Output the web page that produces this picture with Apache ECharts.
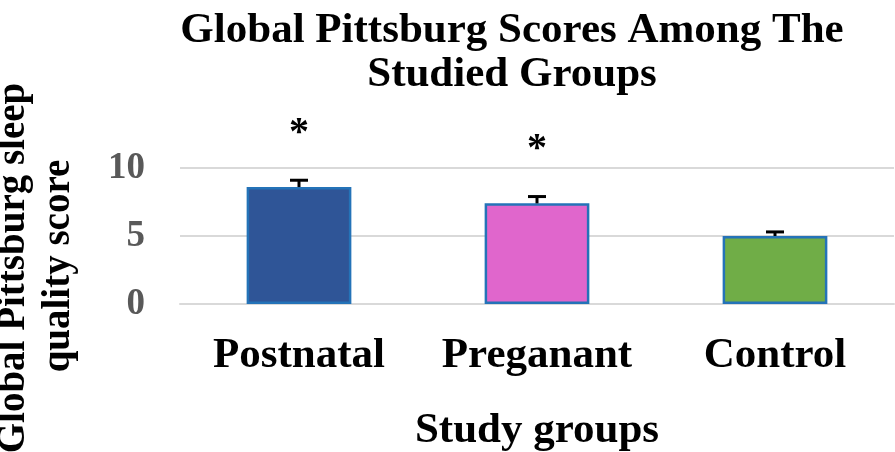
<!DOCTYPE html>
<html>
<head>
<meta charset="utf-8">
<script src="https://cdn.jsdelivr.net/npm/echarts@6/dist/echarts.min.js"></script>
<style>
html,body{margin:0;padding:0;background:#fff;}
#chart{width:895px;height:452px;}
</style>
</head>
<body>
<div id="chart"></div>
<script>
const categories = ['Postnatal', 'Preganant', 'Control'];
const meanScores = [8.6, 7.4, 5.0];
const errorValues = [0.5, 0.5, 0.3];
const significance = ['*', '*', ''];
const barColors = ['#2f5597', '#e066cc', '#70ad47'];
const yTicks = [0, 5, 10];

const FONT = '"Liberation Serif", "Times New Roman", serif';
const chart = echarts.init(document.getElementById('chart'));

const option = {
  animation: false,
  title: {
    text: 'Global Pittsburg Scores Among The\nStudied Groups',
    left: 507,
    top: 4,
    textAlign: 'center',
    textStyle: { fontFamily: FONT, fontWeight: 'bold', fontSize: 43, lineHeight: 44, color: '#000' }
  },
  grid: { left: 180, right: 1, top: 168, bottom: 148, containLabel: false, outerBoundsMode: 'none' },
  xAxis: {
    type: 'category',
    data: categories,
    axisTick: { show: false },
    axisLine: { show: true, lineStyle: { color: '#d9d9d9', width: 2 } },
    axisLabel: { fontFamily: FONT, fontWeight: 'bold', fontSize: 43, color: '#000', margin: 30, interval: 0 },
    name: 'Study groups',
    nameLocation: 'middle',
    nameGap: 105,
    nameTextStyle: { fontFamily: FONT, fontWeight: 'bold', fontSize: 43, color: '#000' }
  },
  yAxis: {
    type: 'value',
    min: yTicks[0],
    max: yTicks[yTicks.length - 1],
    interval: 5,
    axisLine: { show: false },
    axisTick: { show: false },
    splitLine: { lineStyle: { color: '#d9d9d9', width: 2 } },
    axisLabel: { fontFamily: FONT, fontWeight: 'bold', fontSize: 37, color: '#595959', margin: 35 }
  },
  graphic: [
    {
      type: 'text', x: 14, y: 268, rotation: Math.PI / 2,
      style: { text: 'Global Pittsburg sleep', fontFamily: FONT, fontWeight: 'bold', fontSize: 39, fill: '#000', align: 'center', verticalAlign: 'middle' }
    },
    {
      type: 'text', x: 59, y: 266, rotation: Math.PI / 2,
      style: { text: 'quality score', fontFamily: FONT, fontWeight: 'bold', fontSize: 39, fill: '#000', align: 'center', verticalAlign: 'middle' }
    }
  ],
  series: [
    {
      type: 'bar',
      data: meanScores.map((v, i) => ({ value: v, itemStyle: { color: barColors[i] } })),
      barWidth: '44%',
      itemStyle: { borderColor: '#2473b8', borderWidth: 2.5 },
      z: 2
    },
    {
      type: 'custom',
      z: 3,
      clip: false,
      data: meanScores.map((v, i) => [i, v, errorValues[i]]),
      renderItem: function (params, api) {
        const i = api.value(0);
        const v = api.value(1);
        const e = api.value(2);
        const base = api.coord([i, v]);
        const top = api.coord([i, v + e]);
        const half = 9;
        const children = [
          { type: 'line', shape: { x1: base[0], y1: base[1], x2: top[0], y2: top[1] }, style: { stroke: '#000', lineWidth: 3 } },
          { type: 'line', shape: { x1: top[0] - half, y1: top[1], x2: top[0] + half, y2: top[1] }, style: { stroke: '#000', lineWidth: 3 } }
        ];
        if (significance[i]) {
          children.push({
            type: 'text', x: top[0], y: top[1] - 47,
            style: { text: significance[i], fontFamily: FONT, fontWeight: 'bold', fontSize: 40, fill: '#000', align: 'center', verticalAlign: 'middle' }
          });
        }
        return { type: 'group', children: children };
      }
    }
  ]
};
chart.setOption(option);
</script>
</body>
</html>
